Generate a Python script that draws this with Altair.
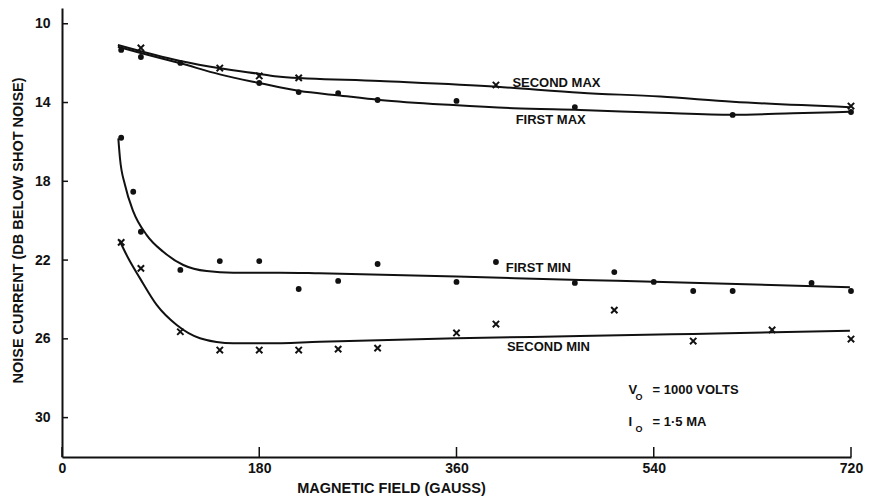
import altair as alt
import pandas as pd

# ---- measured points: magnetic field (gauss) vs noise current (dB below shot noise)
first_max_x = [54, 72, 108, 180, 216, 252, 288, 360, 468, 612, 720]
first_max_y = [11.33, 11.69, 11.99, 13.01, 13.47, 13.52, 13.87, 13.92, 14.23, 14.63, 14.48]

second_max_x = [72, 144, 180, 216, 396, 720]
second_max_y = [11.23, 12.25, 12.65, 12.75, 13.11, 14.18]

first_min_x = [54, 65, 72, 108, 144, 180, 216, 252, 288, 360, 396, 468, 504, 540, 576, 612, 684, 720]
first_min_y = [15.79, 18.53, 20.56, 22.5, 22.05, 22.05, 23.47, 23.06, 22.2, 23.11, 22.1, 23.16,
               22.61, 23.11, 23.57, 23.57, 23.16, 23.57]

second_min_x = [54, 72, 108, 144, 180, 216, 252, 288, 360, 396, 504, 576, 648, 720]
second_min_y = [21.1, 22.42, 25.64, 26.57, 26.57, 26.57, 26.52, 26.47, 25.7, 25.25, 24.54, 26.11, 25.55, 26.01]

# ---- hand-faired curves through each family of points
first_max_curve_x = [51, 71, 108, 144, 181, 217, 251, 290, 357, 412, 473, 546, 612, 667, 719]
first_max_curve_y = [11.17, 11.47, 12.01, 12.57, 13.02, 13.42, 13.63, 13.87, 14.13, 14.29, 14.38, 14.52, 14.62,
                     14.55, 14.47]

second_max_curve_x = [51, 108, 144, 181, 199, 290, 397, 473, 546, 612, 719]
second_max_curve_y = [11.08, 11.89, 12.26, 12.55, 12.69, 12.91, 13.2, 13.5, 13.7, 13.96, 14.24]

first_min_curve_x = [51.4, 52.9, 57.5, 65.1, 77.3, 92.4, 110.7, 132.0, 156.3, 199.0, 235.0, 360.0, 473.0,
                     540.0, 719.0]
first_min_curve_y = [15.82, 16.83, 18.19, 19.54, 20.73, 21.58, 22.25, 22.56, 22.64, 22.64, 22.67, 22.84, 23.01,
                     23.1, 23.38]

second_min_curve_x = [52.3, 60.5, 71.2, 86.4, 104.7, 125.9, 156.3, 186.8, 235.4, 360.1, 472.7, 575.8, 719.0]
second_min_curve_y = [20.98, 21.91, 22.93, 24.28, 25.30, 25.97, 26.23, 26.23, 26.15, 25.97, 25.86, 25.75, 25.59]

# ---- curve names and where they are written
curve_names = ["SECOND MAX", "FIRST MAX", "FIRST MIN", "SECOND MIN"]
curve_name_x = [411, 414, 405, 406]
curve_name_y = [13.01, 14.89, 22.42, 26.4]

# ---- operating conditions note
cond_main = ["V", "I"]
cond_sub = ["O", "O"]
cond_rest = ["=  1000 VOLTS", "=  1·5 MA"]
cond_x = [517, 517]
cond_y = [28.6, 30.22]

# ---- axis ticks
x_ticks = [0, 180, 360, 540, 720]
y_ticks = [10, 14, 18, 22, 26, 30]

INK = "#111111"
FONT = "Liberation Sans"
W, H = 789, 449

xs = alt.Scale(domain=[0, 720], nice=False, zero=False)
ys = alt.Scale(domain=[9.2, 32], nice=False, zero=False, reverse=True)

x_axis = alt.Axis(values=x_ticks, grid=False, ticks=False,
                  labelFlush=False, labelPadding=4, labelFontSize=14, labelFont=FONT,
                  labelFontWeight="bold", labelColor=INK, domainColor=INK, domainWidth=2,
                  titleFont=FONT, titleFontSize=14.5, titleFontWeight="bold", titleColor=INK,
                  titleX=329, titleY=31, titleBaseline="middle", titleAnchor="middle")
y_axis = alt.Axis(values=y_ticks, grid=False, ticks=False,
                  labelPadding=12, labelFontSize=14, labelFont=FONT, labelFontWeight="bold",
                  labelColor=INK, domainColor=INK, domainWidth=2,
                  titleFont=FONT, titleFontSize=14.5, titleFontWeight="bold", titleColor=INK,
                  titleX=-44, titleY=222, titleBaseline="middle", titleAngle=-90)

# every layer shares the same scales, axes and titles
X = alt.X("field:Q", scale=xs, axis=x_axis, title="MAGNETIC FIELD (GAUSS)")
Y = alt.Y("noise:Q", scale=ys, axis=y_axis, title="NOISE CURRENT (DB BELOW SHOT NOISE)")


def points_df(x, y):
    return pd.DataFrame({"field": x, "noise": y, "order": range(len(x))})


def curve(x, y):
    return alt.Chart(points_df(x, y)).mark_line(
        color=INK, strokeWidth=2, interpolate="monotone"
    ).encode(x=X, y=Y, order="order:Q")


def dots(x, y):
    return alt.Chart(points_df(x, y)).mark_point(
        filled=True, color=INK, size=34, opacity=1, shape="circle"
    ).encode(x=X, y=Y)


def crosses(x, y):
    return alt.Chart(points_df(x, y)).mark_point(
        shape="M-1,-1L1,1M-1,1L1,-1", filled=False, color=INK, strokeWidth=2, size=40, opacity=1
    ).encode(x=X, y=Y)


# inward tick marks
x_tick_rules = alt.Chart(pd.DataFrame({"field": x_ticks})).mark_rule(color=INK, strokeWidth=1.5).encode(
    x=X, y=alt.value(H), y2=alt.value(H - 10)
)
y_tick_rules = alt.Chart(pd.DataFrame({"noise": y_ticks})).mark_rule(color=INK, strokeWidth=1.5).encode(
    y=Y, x=alt.value(0), x2=alt.value(6)
)

names = alt.Chart(pd.DataFrame({"field": curve_name_x, "noise": curve_name_y, "name": curve_names})).mark_text(
    align="left", baseline="middle", font=FONT, fontSize=13, fontWeight="bold", color=INK
).encode(x=X, y=Y, text="name:N")

cond_df = pd.DataFrame({"field": cond_x, "noise": cond_y, "main": cond_main, "sub": cond_sub,
                        "rest": cond_rest})
cond_main_txt = alt.Chart(cond_df).mark_text(
    align="left", baseline="middle", font=FONT, fontSize=13, fontWeight="bold", color=INK
).encode(x=X, y=Y, text="main:N")
cond_sub_txt = alt.Chart(cond_df).mark_text(
    align="left", baseline="middle", font=FONT, fontSize=9, fontWeight="bold", color=INK, dx=7, dy=7
).encode(x=X, y=Y, text="sub:N")
cond_rest_txt = alt.Chart(cond_df).mark_text(
    align="left", baseline="middle", font=FONT, fontSize=13, fontWeight="bold", color=INK, dx=24
).encode(x=X, y=Y, text="rest:N")

chart = alt.layer(
    x_tick_rules, y_tick_rules,
    curve(first_max_curve_x, first_max_curve_y),
    curve(second_max_curve_x, second_max_curve_y),
    curve(first_min_curve_x, first_min_curve_y),
    curve(second_min_curve_x, second_min_curve_y),
    dots(first_max_x, first_max_y),
    crosses(second_max_x, second_max_y),
    dots(first_min_x, first_min_y),
    crosses(second_min_x, second_min_y),
    names, cond_main_txt, cond_sub_txt, cond_rest_txt,
).properties(
    width=W, height=H,
    autosize=alt.AutoSizeParams(type="none"),
    padding={"left": 62, "top": 8, "right": 19, "bottom": 46},
    background="white",
).configure_view(stroke=None)

chart.save("out.html", embed_options={"renderer": "svg", "actions": False})
